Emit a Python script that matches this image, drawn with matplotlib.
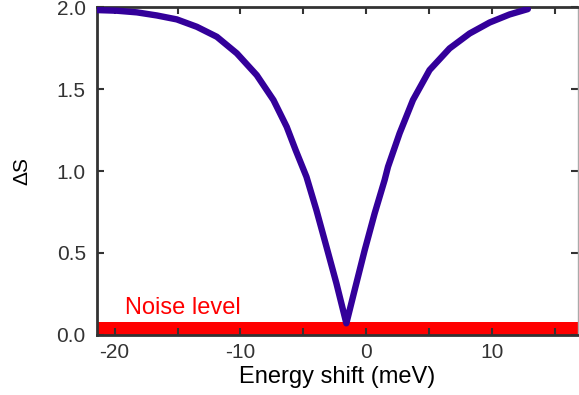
import matplotlib
matplotlib.use("Agg")
import matplotlib.pyplot as plt

plt.rcParams['font.family'] = ['Liberation Sans', 'DejaVu Sans']

# values
energy = [-21.40, -19.82, -18.23, -16.64, -15.06, -13.47, -11.88, -10.29,
          -8.71, -7.38, -6.33, -5.62, -4.76, -3.97, -3.17, -2.38, -1.59,
          -0.93, -0.13, 0.66, 1.45, 1.72, 2.64, 3.70, 5.02, 6.61, 8.20,
          9.79, 11.37, 12.83]
delta_s = [1.982, 1.978, 1.968, 1.949, 1.925, 1.880, 1.819, 1.718,
           1.585, 1.433, 1.270, 1.128, 0.965, 0.762, 0.538, 0.315, 0.071,
           0.274, 0.518, 0.742, 0.945, 1.026, 1.230, 1.433, 1.616, 1.748, 1.839,
           1.906, 1.955, 1.988]
noise_level = 0.077
x_range = [-21.4, 16.8]
x_major = [-20, -10, 0, 10]
x_minor = [-15, -5, 5, 15]
y_ticks = [0.0, 0.5, 1.0, 1.5, 2.0]

fig = plt.figure(figsize=(5.79, 3.95), dpi=100)
ax = fig.add_axes([0.1675, 0.152, 0.8305, 0.830])

ax.fill_between(x_range, 0, noise_level, color='#ff0000', lw=0, zorder=1)
ax.plot(energy, delta_s, color='#33009a', lw=4.6, solid_capstyle='round',
        solid_joinstyle='round', zorder=3)
ax.text(-19.2, 0.128, 'Noise level', color='#ff0000', fontsize=17)

ax.set_xlim(x_range)
ax.set_ylim(0, 2.0)
ax.set_xticks(x_major)
ax.set_xticks(x_minor, minor=True)
ax.set_xticklabels(['-20', '-10', '0', '10'])
ax.set_yticks(y_ticks)
ax.set_yticklabels(['0.0', '0.5', '1.0', '1.5', '2.0'])

ax.tick_params(which='both', direction='in', length=5, width=1.5, color='#333333',
               top=True, right=True, labelsize=15, labelcolor='#333333')
ax.tick_params(axis='y', pad=8)
ax.tick_params(axis='x', pad=6)

for s in ['left', 'bottom', 'top']:
    ax.spines[s].set_color('#333333')
    ax.spines[s].set_linewidth(2)
ax.spines['right'].set_color('#aaaaaa')
ax.spines['right'].set_linewidth(1)

ax.set_xlabel('Energy shift (meV)', fontsize=17, labelpad=3)
ax.set_ylabel('ΔS', fontsize=15, labelpad=18)

fig.savefig('out.png', dpi=100)
